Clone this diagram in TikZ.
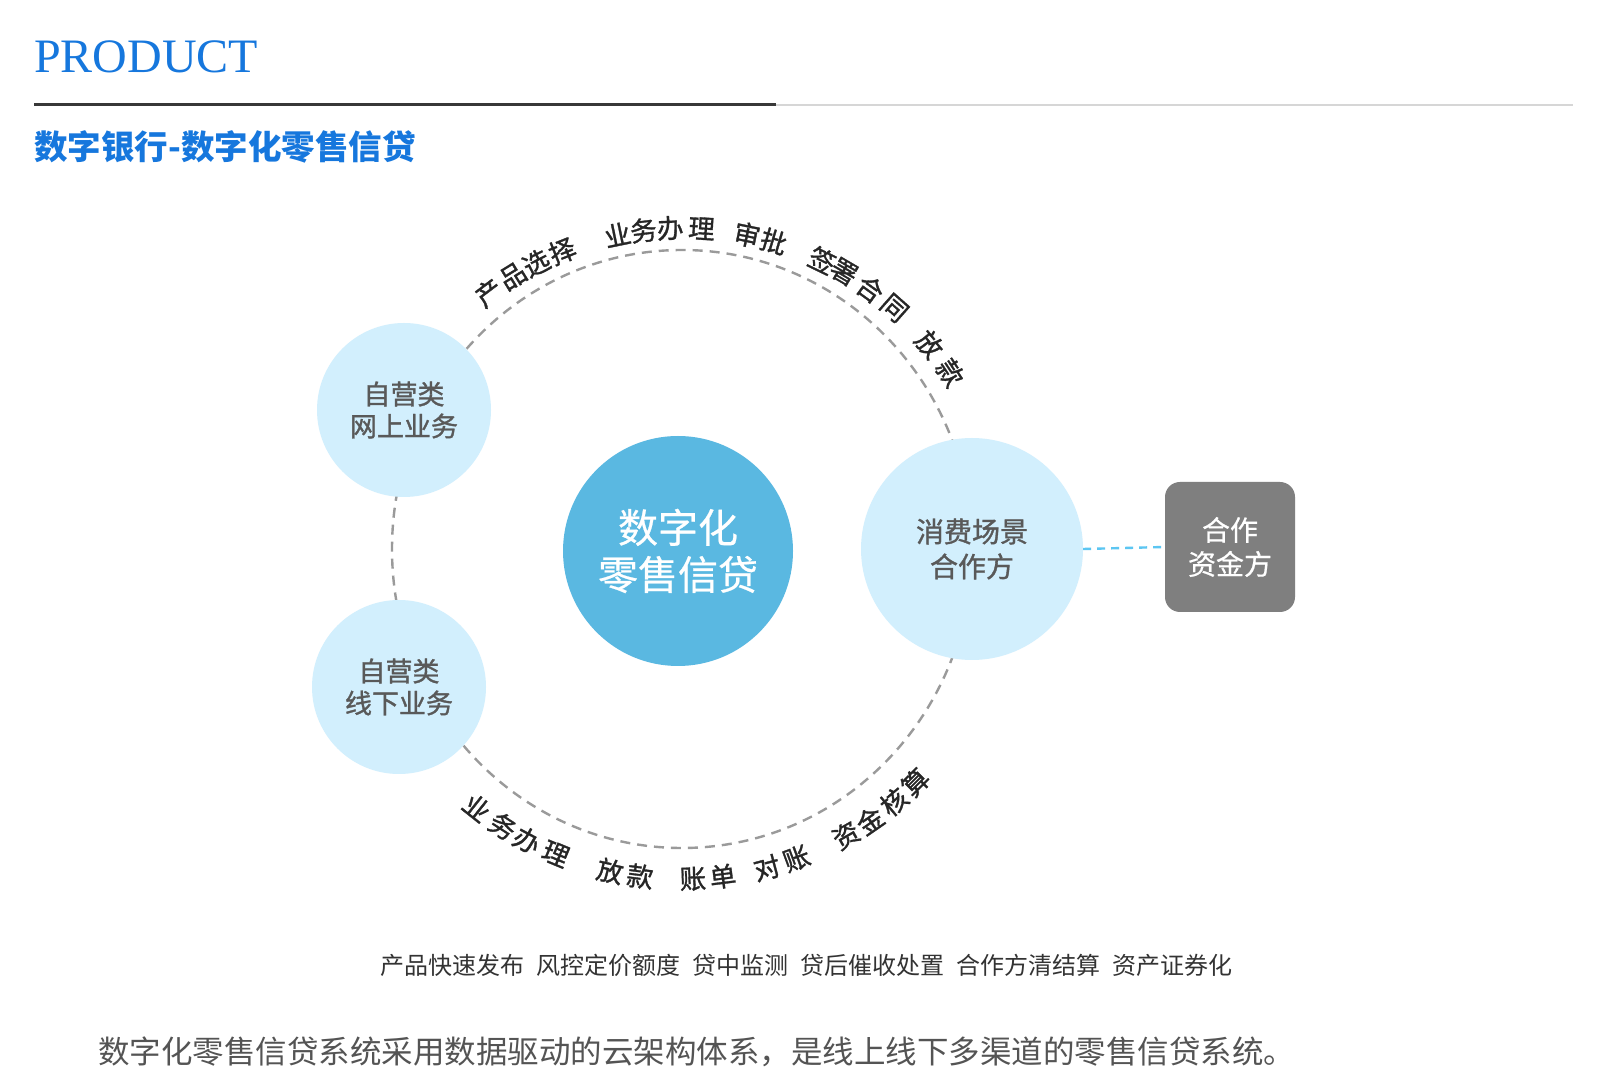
\documentclass[tikz,border=0pt]{standalone}
\usepackage{fontspec}
\setmainfont{Liberation Serif}
\newfontfamily\cjk{Noto Sans CJK SC}
\newfontfamily\cjkm[FakeBold=1.2]{Noto Sans CJK SC}
\newfontfamily\cjkl[FakeBold=0.6]{Noto Sans CJK SC}
\usetikzlibrary{positioning}
\definecolor{titleblue}{HTML}{1677DD}
\definecolor{lightcirc}{HTML}{D2EFFD}
\definecolor{maincirc}{HTML}{5AB8E1}
\definecolor{boxgray}{HTML}{7F7F7F}
\definecolor{circtext}{HTML}{595959}
\definecolor{dashgray}{HTML}{9A9A9A}
\definecolor{dashblue}{HTML}{5CC6F2}
\tikzset{
  side/.style={circle, fill=lightcirc, inner sep=0, minimum size=174, align=center,
    text=circtext, font=\cjkm\fontsize{27}{32}\selectfont},
  archar/.style={inner sep=0, text=black!85, font=\cjkm\fontsize{26.5}{26.5}\selectfont},
}
\begin{document}
\begin{tikzpicture}[x=1pt,y=1pt]
\useasboundingbox (0,0) rectangle (1616,1090);
\fill[white] (0,0) rectangle (1616,1090);
% header
\node[anchor=base west, inner sep=0, text=titleblue, font=\fontsize{48}{48}\selectfont] (title) at (34,1017) {PRODUCT};
\coordinate (l0) at (34,985);
\coordinate (l1) at (776,985);
\coordinate (l2) at (1573,985);
\draw[line width=3, color=black!78] (l0) -- (l1);
\draw[line width=2, color=black!16] (l1) -- (l2);
\node[anchor=west, inner sep=0, text=titleblue, font=\cjk\bfseries\fontsize{33.5}{34}\selectfont] (sub) at (34,943) {数字银行-数字化零售信贷};
% dashed ring
\coordinate (ringc) at (682,541);
\draw[dashgray, line width=2.4, dash pattern=on 10 off 7] (ringc) ellipse [x radius=290, y radius=299];
% circles
\node[side] (c1) at (404,680) {自营类\\网上业务};
\node[side] (c2) at (399,403) {自营类\\线下业务};
\node[circle, fill=maincirc, inner sep=0, minimum size=230, align=center, text=white,
  font=\cjkl\fontsize{40}{47}\selectfont] (core) at (678,539) {数字化\\零售信贷};
\node[side, minimum size=222, font=\cjkm\fontsize{28}{35}\selectfont] (c3) at (972,541) {消费场景\\合作方};
\node[rounded corners=15, fill=boxgray, inner sep=0, minimum size=130, align=center, text=white,
  font=\cjkl\fontsize{28}{34}\selectfont] (fund) at (1230,543) {合作\\资金方};
\draw[dashblue, line width=2.4, dash pattern=on 8 off 6] (c3.east) -- (fund.west);
% top arc labels
\foreach \c/\a [count=\i] in {产/127.0, 品/121.8, 选/117.0, 择/111.9,
    业/101.6, 务/96.9, 办/92.1, 理/86.5, 审/78.3, 批/73.4,
    签/64.1, 署/59.7, 合/54.1, 同/48.6, 放/39.6, 款/33.3}
  \node[archar, rotate=\a-90] (tp\i) at ([shift={(\a:321)}]ringc) {\c};
% bottom arc labels
\foreach \c/\a [count=\i] in {业/-128.4, 务/-122.9, 办/-118.0, 理/-112.5,
    放/-102.6, 款/-97.3, 账/-88.1, 单/-82.9, 对/-75.1, 账/-69.7,
    资/-60.2, 金/-55.3, 核/-50.0, 算/-45.0}
  \node[archar, rotate=\a+90] (bt\i) at ([shift={(\a:330)}]ringc) {\c};
% bottom texts
\node[inner sep=0, text=black!80, font=\cjk\fontsize{24}{24}\selectfont] (feat) at (806,125)
  {产品快速发布\hspace{0.5em}风控定价额度\hspace{0.5em}贷中监测\hspace{0.5em}贷后催收处置\hspace{0.5em}合作方清结算\hspace{0.5em}资产证券化};
\node[anchor=west, inner sep=0, text=black!67, font=\cjk\fontsize{31.5}{32}\selectfont] (desc) at (98,38)
  {数字化零售信贷系统采用数据驱动的云架构体系，是线上线下多渠道的零售信贷系统。};
\end{tikzpicture}
\end{document}
